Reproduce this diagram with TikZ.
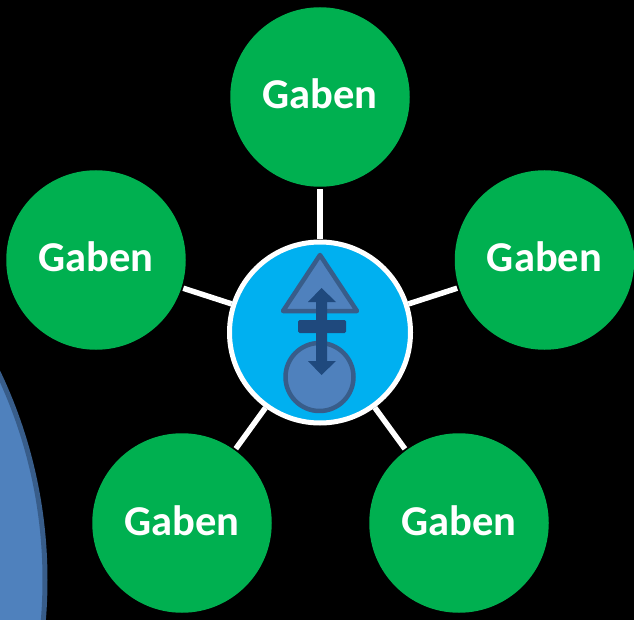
\documentclass[tikz,border=0pt]{standalone}
\usepackage{fontspec}
\setmainfont{Carlito}
\definecolor{gabengreen}{HTML}{00B050}
\definecolor{hubblue}{HTML}{00B0F0}
\definecolor{iconfill}{HTML}{4F81BD}
\definecolor{iconline}{HTML}{385D8A}
\definecolor{icondark}{HTML}{1F497D}
\tikzset{
    gaben/.style={circle, fill=gabengreen, text=white, inner sep=0pt, minimum size=179.5pt, outer sep=2pt,
        font=\fontsize{42.5}{50}\selectfont\bfseries, text height=28pt, text depth=4pt},
    hub/.style={circle, fill=hubblue, draw=white, line width=5pt, inner sep=0pt, minimum size=181pt},
    spoke/.style={white, line width=5.5pt},
    iconshape/.style={fill=iconfill, draw=iconline, line width=4.5pt, line join=round}
}
\begin{document}
\begin{tikzpicture}[x=1pt, y=-1pt]
    \fill[black] (0,0) rectangle (634,620);
    \useasboundingbox (0,0) rectangle (634,620);
    \clip (0,0) rectangle (634,620);

    % large circle in the corner
    \draw[iconshape, line width=5pt] (-437,580) circle (482pt);

    \node[gaben] (top) at (320,97) {Gaben};
    \node[gaben] (left) at (96,260) {Gaben};
    \node[gaben] (right) at (544.5,260) {Gaben};
    \node[gaben] (lowleft) at (182,523) {Gaben};
    \node[gaben] (lowright) at (459,523) {Gaben};
    \node[hub] (center) at (320,332.5) {};

    \draw[spoke] (center) -- (top);
    \draw[spoke] (center) -- (left);
    \draw[spoke] (center) -- (right);
    \draw[spoke] (center) -- (lowleft);
    \draw[spoke] (center) -- (lowright);

    % icon
    \draw[iconshape] (320,255) -- (283,311) -- (357,311) -- cycle;
    \draw[iconshape] (319.5,377) circle (34pt);
    \fill[icondark, rounded corners=1.5pt] (298,320) rectangle (346,333);
    \fill[icondark] (321.5,288) -- (336,302) -- (327,302) -- (327,361) -- (336,361)
        -- (321.5,375) -- (308,361) -- (316,361) -- (316,302) -- (308,302) -- cycle;
\end{tikzpicture}
\end{document}
